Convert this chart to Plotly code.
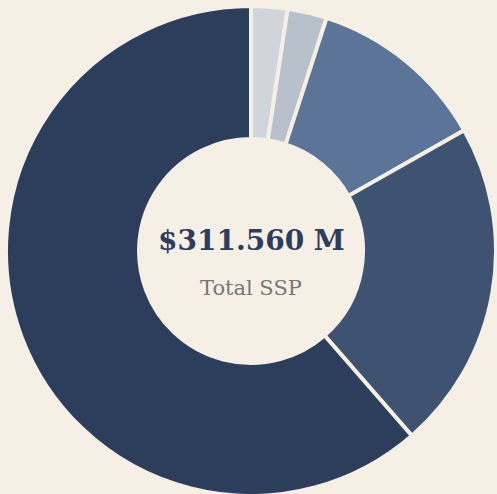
import plotly.graph_objects as go

labels = ["Segment A", "Segment B", "Segment C", "Segment D", "Segment E"]
values = [7.46, 8.1, 36.8, 67.9, 191.3]
colors = ["#d0d5dc", "#b8c0cb", "#5b7497", "#3e5372", "#2d3e5c"]
total_text = "$311.560 M"
sub_text = "Total SSP"

bg = "#f5efe6"

fig = go.Figure(go.Pie(
    labels=labels, values=values, hole=0.457, sort=False,
    direction="clockwise", rotation=0,
    marker=dict(colors=colors, line=dict(color=bg, width=4)),
    textinfo="none", showlegend=False,
))
fig.update_layout(
    width=497, height=496,
    margin=dict(l=5, r=0, t=6, b=0),
    paper_bgcolor=bg, plot_bgcolor=bg,
    annotations=[
        dict(text="<b>" + total_text + "</b>", x=0.5, y=0.5224, xref="paper", yref="paper",
             showarrow=False, font=dict(family="DejaVu Serif", size=28, color="#2d3e5c")),
        dict(text=sub_text, x=0.5, y=0.4245, xref="paper", yref="paper",
             showarrow=False, font=dict(family="DejaVu Serif", size=21, color="#777777")),
    ],
)
fig.write_html(
    "out.html",
    config={"displayModeBar": False},
    post_script="document.body.style.margin='0';document.body.style.background='#f5efe6';document.body.style.overflow='hidden';",
)
